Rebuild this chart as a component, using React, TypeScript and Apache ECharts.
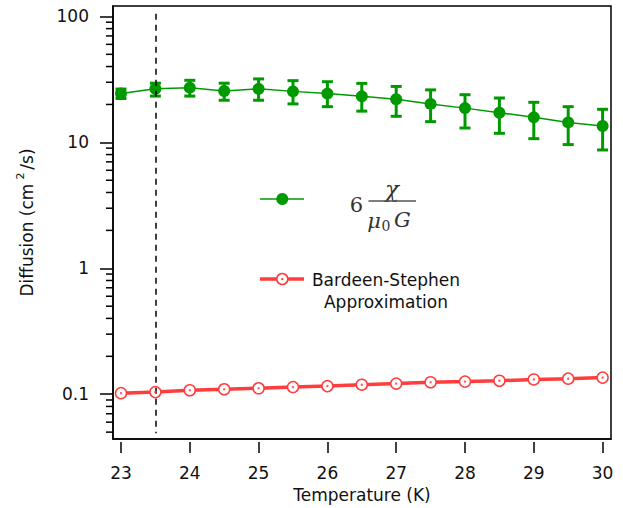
import React, { useEffect, useRef } from "react";
import * as echarts from "echarts";

const temperatures = [23, 23.5, 24, 24.5, 25, 25.5, 26, 26.5, 27, 27.5, 28, 28.5, 29, 29.5, 30];
const diffusionChi = [24.4, 26.6, 27.2, 25.6, 26.6, 25.4, 24.4, 23.2, 22.0, 20.2, 18.7, 17.2, 15.8, 14.4, 13.5];
const diffusionChiLow = [22.3, 23.3, 23.3, 21.6, 21.6, 20.2, 19.2, 17.7, 16.1, 14.6, 13.0, 11.8, 10.7, 9.6, 8.7];
const diffusionChiHigh = [26.5, 29.5, 31.1, 29.5, 31.9, 30.9, 30.3, 29.4, 27.8, 26.1, 23.9, 22.5, 20.8, 19.2, 18.3];
const bardeenStephen = [0.102, 0.104, 0.1076, 0.1095, 0.1115, 0.114, 0.116, 0.119, 0.1215, 0.1245, 0.126, 0.128, 0.131, 0.133, 0.1355];
const xTicks = [23, 24, 25, 26, 27, 28, 29, 30];
const yTicks = [0.1, 1, 10, 100];
const transitionT = 23.5;
const dashedTop = 105;
const dashedBottom = 0.049;

const X_MIN = 22.884;
const X_MAX = 30.122;
const Y_MIN = 0.0441;
const Y_MAX = 121;

const GREEN = "#009900";
const RED = "#ff3d3d";
const FONT = "DejaVu Sans";
const SERIF = "DejaVu Serif";
const INK = "#111";

export default function App() {
  const ref = useRef<HTMLDivElement>(null);
  useEffect(() => {
    document.body.style.margin = "0";
    const chart = echarts.init(ref.current!, null, { renderer: "svg" });

    const minorVals: number[] = [];
    [0.01, 0.1, 1, 10].forEach((d) => {
      for (let m = 2; m <= 9; m++) {
        const v = +(m * d).toPrecision(4);
        if (v > Y_MIN && v < Y_MAX) minorVals.push(v);
      }
    });

    const greenData = temperatures.map((t, i) => [t, diffusionChi[i]]);
    const errData = temperatures.map((t, i) => [t, diffusionChiLow[i], diffusionChiHigh[i]]);
    const redData = temperatures.map((t, i) => [t, bardeenStephen[i]]);

    const option: any = {
      animation: false,
      grid: {
        left: 113,
        right: 12,
        top: 6,
        bottom: 67,
        show: true,
        borderColor: "#000",
        borderWidth: 1.5,
        backgroundColor: "transparent",
      },
      xAxis: [
        {
          type: "value",
          min: X_MIN,
          max: X_MAX,
          position: "bottom",
          axisLine: { show: true, onZero: false, lineStyle: { color: "#000", width: 1.5 } },
          axisTick: { show: false },
          axisLabel: { show: false },
          splitLine: { show: false },
        },
        {
          type: "value",
          min: X_MIN,
          max: X_MAX,
          position: "bottom",
          offset: 3,
          axisLine: { show: false },
          axisTick: {
            show: true,
            length: 11,
            customValues: xTicks,
            lineStyle: { color: "#000", width: 1.5 },
          },
          axisLabel: {
            customValues: xTicks,
            margin: 22,
            fontSize: 17,
            fontFamily: FONT,
            color: INK,
          },
          splitLine: { show: false },
          name: "Temperature (K)",
          nameLocation: "middle",
          nameGap: 44,
          nameTextStyle: { fontSize: 17, fontFamily: FONT, color: INK },
        },
      ],
      yAxis: {
        type: "log",
        logBase: 10,
        min: Y_MIN,
        max: Y_MAX,
        axisLine: { show: true, onZero: false, lineStyle: { color: "#000", width: 1.5 } },
        axisTick: {
          show: true,
          length: 13,
          customValues: yTicks,
          lineStyle: { color: "#000", width: 1.5 },
        },
        axisLabel: {
          customValues: yTicks,
          margin: 24,
          fontSize: 17,
          fontFamily: FONT,
          color: INK,
          formatter: (v: number) => String(+Number(v).toPrecision(6)),
        },
        splitLine: { show: false },
        minorTick: { show: false },
        name: "Diffusion (cm{sup|2}/s)",
        nameLocation: "middle",
        nameGap: 75,
        nameTextStyle: {
          fontSize: 17,
          fontFamily: FONT,
          color: INK,
          rich: {
            sup: { fontSize: 11, fontFamily: FONT, color: INK, verticalAlign: "bottom", padding: [0, 3, 12, 4] },
          },
        },
      },
      series: [
        {
          type: "custom",
          name: "minorTicks",
          clip: false,
          silent: true,
          renderItem: (_p: any, api: any) => {
            const p = api.coord([api.value(0), api.value(1)]);
            return {
              type: "line",
              shape: { x1: p[0] - 7, y1: p[1], x2: p[0], y2: p[1] },
              style: { stroke: "#000", lineWidth: 1.5 },
            };
          },
          data: minorVals.map((v) => [X_MIN, v]),
          z: 5,
        },
        {
          type: "custom",
          name: "errorBars",
          silent: true,
          encode: { x: 0, y: [1, 2] },
          renderItem: (_p: any, api: any) => {
            const x = api.value(0);
            const hi = api.coord([x, api.value(2)]);
            const lo = api.coord([x, api.value(1)]);
            const w = 5.5;
            const style = { stroke: GREEN, lineWidth: 3 };
            return {
              type: "group",
              children: [
                { type: "line", shape: { x1: hi[0], y1: hi[1], x2: lo[0], y2: lo[1] }, style },
                { type: "line", shape: { x1: hi[0] - w, y1: hi[1], x2: hi[0] + w, y2: hi[1] }, style },
                { type: "line", shape: { x1: lo[0] - w, y1: lo[1], x2: lo[0] + w, y2: lo[1] }, style },
              ],
            };
          },
          data: errData,
          z: 3,
        },
        {
          type: "line",
          name: "chi",
          data: greenData,
          symbol: "circle",
          symbolSize: 12,
          lineStyle: { color: GREEN, width: 1.5 },
          itemStyle: { color: GREEN },
          z: 4,
          markLine: {
            silent: true,
            symbol: "none",
            label: { show: false },
            lineStyle: { color: "#000", width: 1.5, type: [6, 5] },
            data: [[{ coord: [transitionT, dashedTop] }, { coord: [transitionT, dashedBottom] }]],
          },
        },
        {
          type: "line",
          name: "Bardeen-Stephen",
          data: redData,
          symbol: "circle",
          symbolSize: 11,
          lineStyle: { color: RED, width: 3.5 },
          itemStyle: { color: "#fff", borderColor: RED, borderWidth: 1.5 },
          z: 4,
        },
        {
          type: "scatter",
          name: "BS centers",
          data: redData,
          symbol: "circle",
          symbolSize: 2.5,
          itemStyle: { color: RED },
          silent: true,
          z: 6,
        },
      ],
      graphic: [
        { type: "line", shape: { x1: 260, y1: 199, x2: 304, y2: 199 }, style: { stroke: GREEN, lineWidth: 1.5 } },
        { type: "circle", shape: { cx: 282.3, cy: 199, r: 6 }, style: { fill: GREEN } },
        { type: "line", shape: { x1: 260, y1: 279, x2: 304, y2: 279 }, style: { stroke: RED, lineWidth: 3.5 } },
        { type: "circle", shape: { cx: 282.3, cy: 279, r: 5.5 }, style: { fill: "#fff", stroke: RED, lineWidth: 1.5 } },
        { type: "circle", shape: { cx: 282.3, cy: 279, r: 1.2 }, style: { fill: RED } },
        {
          type: "text",
          x: 356.5,
          y: 205,
          style: { text: "6", font: `21px "${SERIF}"`, fill: "#333", align: "center", verticalAlign: "middle" },
        },
        {
          type: "text",
          x: 392,
          y: 189,
          style: { text: "χ", font: `italic 23px "${SERIF}"`, fill: "#333", align: "center", verticalAlign: "middle" },
        },
        { type: "line", shape: { x1: 368.5, y1: 201, x2: 416, y2: 201 }, style: { stroke: "#555", lineWidth: 1.3 } },
        {
          type: "text",
          x: 374,
          y: 221,
          style: { text: "μ", font: `italic 21px "${SERIF}"`, fill: "#333", align: "center", verticalAlign: "middle" },
        },
        {
          type: "text",
          x: 386,
          y: 226,
          style: { text: "0", font: `14px "${SERIF}"`, fill: "#333", align: "center", verticalAlign: "middle" },
        },
        {
          type: "text",
          x: 402.5,
          y: 220,
          style: { text: "G", font: `italic 21px "${SERIF}"`, fill: "#333", align: "center", verticalAlign: "middle" },
        },
        {
          type: "text",
          x: 386,
          y: 291,
          style: {
            text: "Bardeen-Stephen\nApproximation",
            font: `17px "${FONT}"`,
            lineHeight: 22,
            fill: INK,
            align: "center",
            verticalAlign: "middle",
          },
        },
      ],
    };
    chart.setOption(option);
    return () => chart.dispose();
  }, []);
  return <div ref={ref} style={{ width: 623, height: 508 }} />;
}
